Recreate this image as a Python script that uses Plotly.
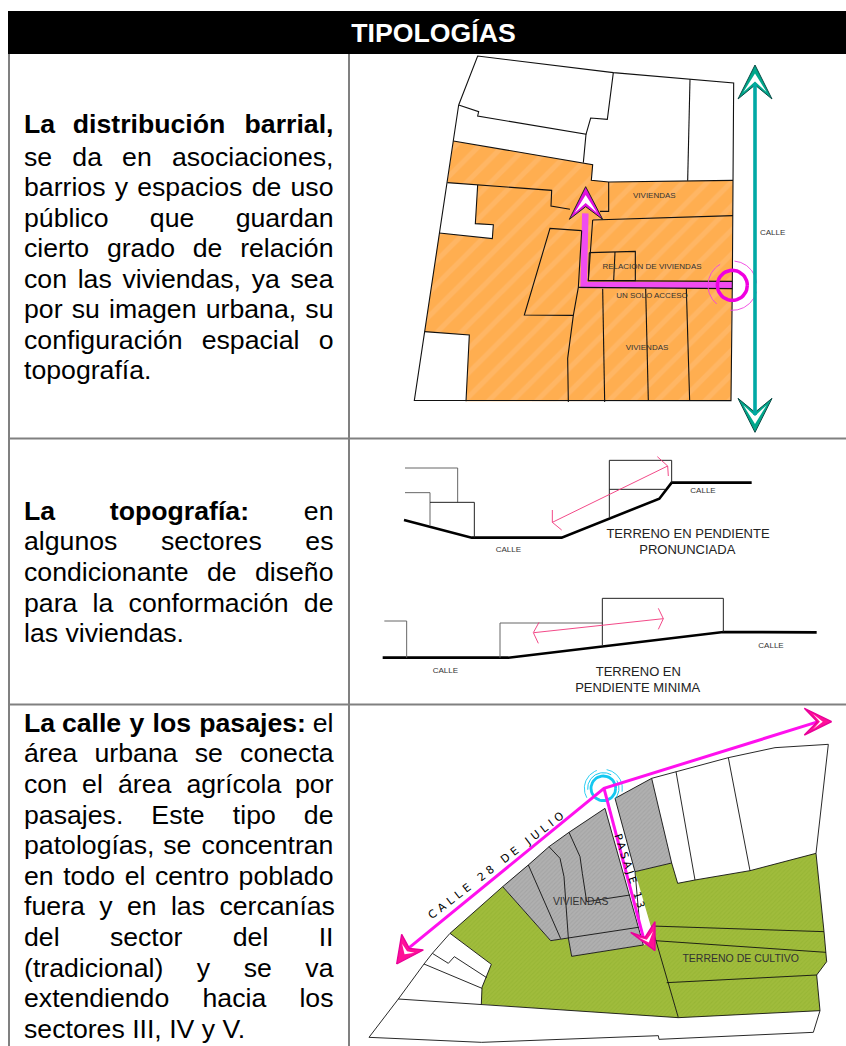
import math
import plotly.graph_objects as go

W, H = 846, 1046
FONT = "Liberation Sans"

# ---------- text content ----------
TITLE = "TIPOLOGÍAS"
# (line text, number of bold words, justified?, row)
PARA_1 = [
    ("La distribución barrial,", 3, True, 124),
    ("se da en asociaciones,", 0, True, 156.5),
    ("barrios y espacios de uso", 0, True, 187),
    ("público que guardan", 0, True, 217.5),
    ("cierto grado de relación", 0, True, 248),
    ("con las viviendas, ya sea", 0, True, 278.5),
    ("por su imagen urbana, su", 0, True, 309),
    ("configuración espacial o", 0, True, 339.5),
    ("topografía.", 0, False, 370),
]
PARA_2 = [
    ("La topografía: en", 2, True, 511),
    ("algunos sectores es", 0, True, 541),
    ("condicionante de diseño", 0, True, 572),
    ("para la conformación de", 0, True, 602.5),
    ("las viviendas.", 0, False, 633),
]
PARA_3 = [
    ("La calle y los pasajes: el", 5, True, 723),
    ("área urbana se conecta", 0, True, 753),
    ("con el área agrícola por", 0, True, 784),
    ("pasajes. Este tipo de", 0, True, 815),
    ("patologías, se concentran", 0, True, 845),
    ("en todo el centro poblado", 0, True, 876),
    ("fuera y en las cercanías", 0, True, 906),
    ("del sector del II", 0, True, 937),
    ("(tradicional) y se va", 0, True, 968),
    ("extendiendo hacia los", 0, True, 998),
    ("sectores III, IV y V.", 0, False, 1029),
]

# ---------- map 1 (parcel plan), read in 3x crop units from (400, 50) ----------
M1_ORANGE = [(160,273),(578,344),(574,391),(626,396),(999,391),(993,1052),(198,1054),(208,855),(74,845),
             (118,549),(277,566),(280,524),(226,521),(233,405),(142,398)]
M1_LINES = [
    [(176,165),(233,18),(640,68),(870,88),(1001,99),(997,700),(993,1052),(43,1051),(74,845),(118,549),(142,398),(160,273),(176,165)],
    [(176,165),(236,185),(233,198),(558,253),(550,338)],
    [(640,68),(622,208),(572,204),(558,253)],
    [(870,88),(863,392)],
    [(160,273),(578,344),(574,391),(626,396),(999,391)],
    [(142,398),(233,405),(455,421),(453,468),(510,478)],
    [(600,484),(626,484),(626,396)],
    [(233,405),(226,521),(280,524),(277,566),(118,549)],
    [(578,510),(999,497)],
    [(545,542),(450,535),(373,795),(520,796)],
    [(545,542),(535,712),(520,796),(503,925),(505,1056)],
    [(568,608),(706,604),(706,692),(565,692),(568,608)],
    [(645,606),(641,692)],
    [(578,510),(565,692),(997,694)],
    [(535,712),(997,716)],
    [(608,716),(614,1056)],
    [(737,716),(745,1053)],
    [(859,716),(869,1053)],
    [(74,845),(208,855),(198,1054)],
]
M1_PATH = [(556,490),(551,705),(997,705)]
M1_HEAD = [(557,410),(508,508),(557,470),(608,508)]
M1_TEAL = [(1065,100),(1065,1095)]
M1_TEAL_TOP = [(1065,45),(1014,147),(1065,105),(1116,147)]
M1_TEAL_BOT = [(1065,1147),(1014,1045),(1065,1087),(1116,1045)]
M1_LABELS = [("VIVIENDAS",763,435),("CALLE",1118,546),("RELACION DE VIVIENDAS",756,648),
             ("UN SOLO ACCESO",756,735),("VIVIENDAS",741,891)]

# ---------- sections, 3x crop units from (350, 440) ----------
S_THICK = [
    [(162,240),(365,293),(635,293),(928,176),(965,128),(1205,128)],
    [(98,653),(475,653),(1120,576),(1400,577)],
]
S_GRAY = [
    [(165,84),(323,84),(323,187)],
    [(165,158),(240,158),(240,256)],
    [(103,543),(170,543),(170,653)],
    [(450,653),(450,549),(757,549)],
]
S_BLACK = [
    [(240,187),(373,187),(373,293)],
    [(778,232),(778,61),(965,61),(965,128)],
    [(778,148),(945,148)],
    [(757,615),(757,475),(1120,475),(1120,576)],
]
S_PINK = [
    [(607,247),(953,78)],
    [(607,210),(607,247),(635,270)],
    [(922,50),(953,78),(955,108)],
    [(552,578),(940,536)],
    [(565,610),(550,578),(567,547)],
    [(925,505),(940,536),(925,568)],
]
S_SMALL = [("CALLE",475,327),("CALLE",1059,150),("CALLE",286,690),("CALLE",1263,615)]
S_BIG = [("TERRENO EN PENDIENTE",1014,281),("PRONUNCIADA",1012,329),
         ("TERRENO EN",865,696),("PENDIENTE MINIMA",863,743)]

# ---------- map 2 (street plan), 3x crop units from (350, 700) ----------
M2_GREEN_L = [(300,700),(458,560),(602,722),(655,714),(665,769),(880,735),(918,722),(985,953),(394,913),(396,862),(424,793)]
M2_GREEN_R = [(855,515),(965,489),(983,550),(1035,540),(1200,512),(1398,460),(1422,695),(1430,785),(1400,825),(1410,932),(985,953),(915,722)]
M2_GRAY_L = [(458,560),(535,495),(597,440),(657,397),(765,325),(880,735),(665,769),(655,714),(602,722)]
M2_GRAY_R = [(795,295),(905,235),(965,489),(855,515)]
M2_LINES = [
    [(57,1012),(395,1027),(925,1007),(927,1018),(1390,997),(1410,932)],
    [(57,1012),(145,897),(222,792),(247,760),(300,700),(458,560),(535,495),(597,440),(657,397),(765,325)],
    [(795,295),(905,235),(1135,173),(1275,143),(1435,133),(1398,460),(1422,695),(1430,785),(1400,825),(1410,932)],
    [(145,897),(394,913),(985,953),(1410,932)],
    [(765,325),(880,735),(665,769),(655,714)],
    [(795,295),(855,515),(870,682)],
    [(905,235),(965,489),(983,550),(1035,540),(1200,512),(1398,460)],
    [(855,515),(965,489)],
    [(978,215),(1035,540)],
    [(1135,173),(1200,512)],
    [(905,678),(1422,695)],
    [(915,722),(1428,757)],
    [(950,848),(1400,825)],
    [(905,678),(985,953)],
    [(458,560),(602,722),(865,682)],
    [(535,495),(632,716)],
    [(597,440),(630,475),(642,530),(655,714)],
    [(657,397),(690,470),(697,520),(710,605),(840,585)],
    [(300,700),(424,793),(396,862),(394,913)],
    [(247,760),(295,790),(313,770),(410,833)],
    [(222,792),(396,865)],
]
M2_ROUTE = [[(175,745),(762,265),(1405,65)], [(762,265),(880,712)]]
M2_HEADS = [
    [(140,792),(155,703),(178,745),(220,750)],
    [(1445,65),(1363,25),(1402,65),(1363,105)],
    [(915,752),(842,697),(885,712),(915,665)],
]
M2_LABELS = [("VIVIENDAS",692,603,10.4),("TERRENO DE CULTIVO",1172,775,10.5)]
M2_ROTATED = [("CALLE 28 DE JULIO",443,494,-37.6,"4px",11),("PASAJE 13",842,515,72,"3px",10.5)]

# ---------- helpers ----------
A1 = (400,50); A2 = (350,440); A3 = (350,700)
def tf(pts, o):
    return [o[0]+p[0]/3 for p in pts], [o[1]+p[1]/3 for p in pts]

REG = dict(zip("abcdefghijklmnopqrstuvwxyz", [556,556,500,556,556,278,556,556,222,222,500,222,833,556,556,556,556,333,500,278,556,500,722,500,500,500]))
BLD = dict(zip("abcdefghijklmnopqrstuvwxyz", [556,611,556,611,556,333,611,611,278,278,556,278,889,611,611,611,611,389,556,333,611,556,778,556,556,500]))
OTHER = {"L":556,"I":278,"V":667,",":278,".":278,":":278,"(":333,")":333,"E":667}
PLAIN = str.maketrans("áéíóúñ","aeioun")
def wwidth(w, bold, size):
    t = 0
    for c in w.translate(PLAIN):
        t += (BLD if bold else REG).get(c, OTHER.get(c, 556))
    return t*size/1000

fig = go.Figure()
def add_line(pts, o, color="black", w=1.0):
    x, y = tf(pts, o)
    fig.add_trace(go.Scatter(x=x, y=y, mode="lines", line=dict(color=color, width=w, shape="linear"), hoverinfo="skip"))
def add_poly(pts, o, color, line=None, pattern=None, lw=0.8):
    x, y = tf(pts+[pts[0]], o)
    kw = dict(fillpattern=pattern) if pattern else {}
    fig.add_trace(go.Scatter(x=x, y=y, mode="lines", fill="toself", fillcolor=color,
                             line=dict(color=line or "rgba(0,0,0,0)", width=lw if line else 0), hoverinfo="skip", **kw))
def add_text(items, o, size, color="#222"):
    x = [o[0]+t[1]/3 for t in items]; y = [o[1]+t[2]/3+size*0.09 for t in items]
    fig.add_trace(go.Scatter(x=x, y=y, mode="text", text=[t[0] for t in items], textposition="middle center",
                             textfont=dict(family=FONT, size=size, color=color), hoverinfo="skip"))
def add_arc(c, r, a0, a1, o, color, w):
    pts = [(c[0]+r*math.cos(math.radians(a0+(a1-a0)*i/40)), c[1]+r*math.sin(math.radians(a0+(a1-a0)*i/40))) for i in range(41)]
    add_line(pts, o, color, w)
def lerp(a, b, t):
    return (a[0]+(b[0]-a[0])*t, a[1]+(b[1]-a[1])*t)
def add_head(h, o, fill, edge, lw=0.8, inner="white", ft=0.42, fn=0.82, fa=0.85):
    T, L, N, R = h
    add_poly(h, o, fill, line=edge, lw=lw)
    il = lerp(lerp(T, L, fa), N, 0.2)
    ir = lerp(lerp(T, R, fa), N, 0.2)
    add_poly([lerp(T, N, ft), il, lerp(T, N, fn), ir], o, inner)

# ---------- table frame ----------
GRID = "#808080"
def seg(x0,y0,x1,y1,color=GRID,w=2):
    fig.add_trace(go.Scatter(x=[x0,x1], y=[y0,y1], mode="lines", line=dict(color=color,width=w), hoverinfo="skip"))
fig.add_trace(go.Scatter(x=[8,846,846,8,8], y=[11,11,54,54,11], mode="lines", fill="toself", fillcolor="black",
                         line=dict(width=0,color="black"), hoverinfo="skip"))
seg(9,54,9,1046); seg(349,54,349,1046); seg(9,438.5,846,438.5); seg(9,704.5,846,704.5)
SIZE = 26.67; LEFT = 24; RIGHT = 333.5; DY = SIZE*0.09
fig.add_trace(go.Scatter(x=[433.5], y=[32.5+DY], mode="text", text=[f"<b>{TITLE}</b>"], textposition="middle center",
                         textfont=dict(family=FONT, size=SIZE, color="white"), hoverinfo="skip"))

# ---------- left column paragraphs ----------
for para in (PARA_1, PARA_2, PARA_3):
    for text, nbold, just, row in para:
        words = text.split()
        if not just:
            fig.add_trace(go.Scatter(x=[LEFT], y=[row+DY], mode="text", text=[text], textposition="middle right",
                                     textfont=dict(family=FONT,size=SIZE,color="black"), hoverinfo="skip"))
            continue
        widths = [wwidth(w, i<nbold, SIZE) for i,w in enumerate(words)]
        gap = (RIGHT-LEFT-sum(widths))/(len(words)-1)
        xs, pos = [], LEFT
        for wd in widths:
            xs.append(pos); pos += wd+gap
        lab = [f"<b>{w}</b>" if i<nbold else w for i,w in enumerate(words)]
        fig.add_trace(go.Scatter(x=xs, y=[row+DY]*len(xs), mode="text", text=lab, textposition="middle right",
                                 textfont=dict(family=FONT,size=SIZE,color="black"), hoverinfo="skip"))

# ---------- map 1 ----------
add_poly(M1_ORANGE, A1, "#FFAE4E", pattern=dict(shape="/", bgcolor="#FFAE50", fgcolor="#FFBE78", size=17, solidity=0.3))
add_line(M1_PATH, A1, "#F04CF0", 6.5)
for l in M1_LINES:
    add_line(l, A1, "#111", 1.1)
add_head(M1_HEAD, A1, "#E010E0", "#222", lw=1)
add_arc((997,706), 45, 0, 360, A1, "#F000E0", 3.5)
add_arc((997,706), 73, 130, 240, A1, "#F040E0", 0.9)
add_arc((997,706), 73, 275, 355, A1, "#F040E0", 0.9)
add_arc((997,706), 75, 15, 95, A1, "#F040E0", 0.9)
add_head(M1_TEAL_TOP, A1, "#00A88C", "#0A4A44", lw=1)
add_head(M1_TEAL_BOT, A1, "#00A88C", "#0A4A44", lw=1)
add_line(M1_TEAL, A1, "#00A9A5", 3.6)
add_text(M1_LABELS, A1, 8, "#333")

# ---------- sections ----------
for l in S_THICK: add_line(l, A2, "black", 2.6)
for l in S_GRAY: add_line(l, A2, "#666", 1)
for l in S_BLACK: add_line(l, A2, "#222", 1)
for l in S_PINK: add_line(l, A2, "#F0357A", 0.9)
add_text(S_SMALL, A2, 8, "#333")
add_text(S_BIG, A2, 13, "#222")

# ---------- map 2 ----------
green = dict(shape="/", bgcolor="#A0BC3C", fgcolor="#8FB02E", size=3, solidity=0.35)
gray = dict(shape="/", bgcolor="#B0B0B0", fgcolor="#999999", size=3, solidity=0.35)
add_poly(M2_GREEN_L, A3, "#9DBB3A", pattern=green)
add_poly(M2_GREEN_R, A3, "#9DBB3A", pattern=green)
add_poly(M2_GRAY_L, A3, "#A8A8A8", pattern=gray)
add_poly(M2_GRAY_R, A3, "#A8A8A8", pattern=gray)
for l in M2_LINES: add_line(l, A3, "#111", 0.9)
for t,x,y,s in M2_LABELS:
    add_text([(t,x,y)], A3, s, "#333")
add_arc((760,265), 37, 0, 360, A3, "#14C8F0", 2.8)
add_arc((760,265), 47, 175, 300, A3, "#14C8F0", 1)
add_arc((760,265), 47, 330, 400, A3, "#14C8F0", 1)
add_arc((760,265), 57, 150, 250, A3, "#14C8F0", 0.9)
add_arc((760,265), 57, 280, 370, A3, "#14C8F0", 0.9)
for l in M2_ROUTE: add_line(l, A3, "#FF10EE", 3)
for h in M2_HEADS:
    add_head(h, A3, "#FF1098", "#E8009A", lw=1.4, ft=0.62, fn=0.82, fa=0.72)

annos = []
for t,x,y,ang,sp,s in M2_ROTATED:
    annos.append(dict(x=A3[0]+x/3, y=A3[1]+y/3, text=f'<span style="letter-spacing:{sp}">{t}</span>', textangle=ang,
                      showarrow=False, font=dict(family="DejaVu Sans", size=s, color="black"), xref="x", yref="y"))

fig.update_layout(width=W, height=H, margin=dict(l=0,r=0,t=0,b=0), paper_bgcolor="white", plot_bgcolor="white",
                  showlegend=False, annotations=annos,
                  xaxis=dict(range=[0,W], visible=False, fixedrange=True),
                  yaxis=dict(range=[H,0], visible=False, fixedrange=True))
fig.write_html("out.html", config=dict(displayModeBar=False), post_script="document.body.style.margin='0';document.documentElement.style.overflow='hidden';")
